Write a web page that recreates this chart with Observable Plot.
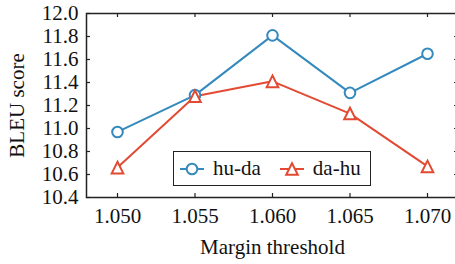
<!DOCTYPE html>
<html>
<head>
<meta charset="utf-8">
<script src="https://cdn.jsdelivr.net/npm/d3@7"></script>
<script src="https://cdn.jsdelivr.net/npm/@observablehq/plot@0.6"></script>
<style>
  html, body { margin: 0; padding: 0; background: white; overflow: hidden; }
  #wrap { position: relative; width: 455px; height: 264px; font-family: "Liberation Serif", "Times New Roman", serif; }
  #legend { position: absolute; left: 173px; top: 151px; width: 196px; height: 33px; border: 1.5px solid #222; background: white; display: flex; align-items: center; font-size: 21px; color: #111; }
  .item { display: flex; align-items: center; }
  .item svg { display: block; }
</style>
</head>
<body>
<div id="wrap"></div>
<script>
const thresholds = [1.050, 1.055, 1.060, 1.065, 1.070];
const huDa = [10.97, 11.29, 11.81, 11.31, 11.65];
const daHu = [10.66, 11.28, 11.41, 11.13, 10.67];
const seriesNames = ["hu-da", "da-hu"];
const seriesColors = ["#348ABD", "#E24A33"];
const yTicks = [10.4, 10.6, 10.8, 11.0, 11.2, 11.4, 11.6, 11.8, 12.0];
const xTicks = thresholds;

const rows = [];
thresholds.forEach((t, i) => {
  rows.push({x: t, y: huDa[i], s: seriesNames[0]});
  rows.push({x: t, y: daHu[i], s: seriesNames[1]});
});

// matplotlib-like triangle (centered on bbox)
const triUp = {
  draw(ctx, size) {
    const a = Math.sqrt(size / Math.PI);
    ctx.moveTo(0, -a);
    ctx.lineTo(a, a);
    ctx.lineTo(-a, a);
    ctx.closePath();
  }
};

const frameColor = "#222";
const tickLen = 4;
const plotH = 264 - 13 - 67;
const plotW = 455 - 86 + 3;
const fs = 21;

const chart = Plot.plot({
  width: 455,
  height: 264,
  marginLeft: 86,
  marginTop: 13,
  marginBottom: 67,
  marginRight: -3,
  style: {fontFamily: "'Liberation Serif', 'Times New Roman', serif", fontSize: fs + "px", color: "#111", background: "white", overflow: "visible"},
  x: {domain: [1.048, 1.072]},
  y: {domain: [10.4, 12.0]},
  color: {domain: seriesNames, range: seriesColors},
  marks: [
    Plot.axisX({ticks: xTicks, tickFormat: d3.format(".3f"), tickSize: 0, tickPadding: 11, label: null, fontSize: fs}),
    Plot.axisY({ticks: yTicks, tickFormat: d3.format(".1f"), tickSize: 0, tickPadding: 8, label: null, fontSize: fs}),
    // inward ticks on all four sides
    Plot.ruleX(xTicks, {x: d => d, insetTop: plotH - tickLen, stroke: frameColor, strokeWidth: 1.2}),
    Plot.ruleX(xTicks, {x: d => d, insetBottom: plotH - tickLen, stroke: frameColor, strokeWidth: 1.2}),
    Plot.ruleY(yTicks, {y: d => d, insetRight: plotW - tickLen, stroke: frameColor, strokeWidth: 1.2}),
    Plot.ruleY(yTicks, {y: d => d, insetLeft: plotW - tickLen, stroke: frameColor, strokeWidth: 1.2}),
    Plot.line(rows, {x: "x", y: "y", z: "s", stroke: "s", strokeWidth: 2}),
    Plot.dot(rows.filter(d => d.s === "hu-da"), {x: "x", y: "y", r: 5.3, symbol: "circle", stroke: "s", fill: "white", strokeWidth: 2}),
    Plot.dot(rows.filter(d => d.s === "da-hu"), {x: "x", y: "y", r: 5.8, symbol: triUp, stroke: "s", fill: "white", strokeWidth: 2}),
    Plot.frame({stroke: frameColor, strokeWidth: 1.5}),
    Plot.text(["Margin threshold"], {frameAnchor: "bottom", dy: 56, text: d => d, fontSize: fs, fill: "#111"}),
    Plot.text(["BLEU score"], {frameAnchor: "left", dx: -69, rotate: -90, textAnchor: "middle", text: d => d, fontSize: fs, fill: "#111"})
  ]
});

const wrap = document.getElementById("wrap");
wrap.appendChild(chart);

// legend inside the plot
const legend = document.createElement("div");
legend.id = "legend";
const symbols = [
  '<circle cx="12" cy="8" r="5.3" fill="white" stroke="COLOR" stroke-width="2"/>',
  '<path d="M12,2.2 L17.8,13.8 L6.2,13.8 Z" fill="white" stroke="COLOR" stroke-width="2"/>'
];
seriesNames.forEach((name, i) => {
  const item = document.createElement("div");
  item.className = "item";
  item.style.marginLeft = i === 0 ? "6px" : "19px";
  item.innerHTML = `<svg width="24" height="16"><line x1="0" y1="8" x2="24" y2="8" stroke="${seriesColors[i]}" stroke-width="2"/>${symbols[i].replace("COLOR", seriesColors[i])}</svg><span style="margin-left:9px">${name}</span>`;
  legend.appendChild(item);
});
wrap.appendChild(legend);
</script>
</body>
</html>
